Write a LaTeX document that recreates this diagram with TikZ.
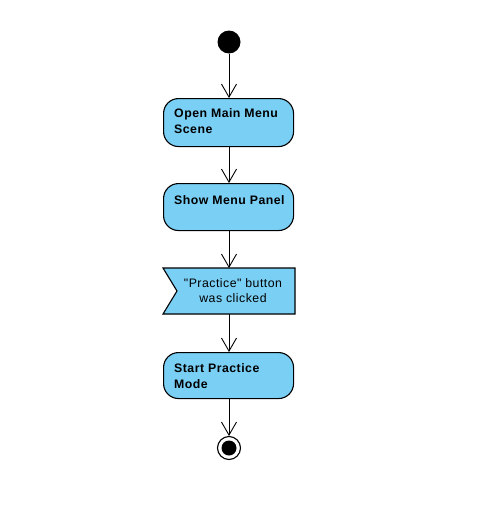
\documentclass[tikz,border=0pt]{standalone}
\usepackage{fontspec}
\setmainfont{Liberation Sans}
\newfontfamily\labfont[LetterSpace=4]{Liberation Sans}
\usetikzlibrary{arrows.meta}
\definecolor{actfill}{RGB}{122,207,245}
\begin{document}
\begin{tikzpicture}[x=1pt,y=-1pt,
  actbox/.style={draw=black,line width=1.1pt,fill=actfill,rounded corners=15pt,minimum width=130pt,minimum height=48pt,inner sep=0pt,anchor=north west},
  acttext/.style={font=\labfont\fontsize{12.3}{16}\selectfont\bfseries,align=left,anchor=base west,inner sep=0pt},
  sigtext/.style={font=\labfont\fontsize{12.3}{15}\selectfont,align=center,anchor=base,inner sep=0pt},
  flow/.style={draw=black,line width=0.9pt,-{Straight Barb[length=13pt,width=15pt,line width=0.9pt]}}]
\useasboundingbox (0,0) rectangle (489,522);
% initial node
\node[circle,fill=black,minimum size=23pt,inner sep=0pt] (init) at (229,42) {};
% actions
\node[actbox] (a1) at (163,98) {};
\node[acttext] (t1) at (174,133) {Open Main Menu\\Scene};
\node[actbox,minimum height=47pt] (a2) at (163,183) {};
\node[acttext] (t2) at (174,204) {Show Menu Panel};
% accept event signal
\draw[line width=1.1pt,fill=actfill] (163,268) -- (295,268) -- (295,314) -- (163,314) -- (177,291) -- cycle;
\coordinate (sigT) at (229,268);
\coordinate (sigB) at (229,314);
\node[sigtext] (t3) at (233,302) {"Practice" button\\was clicked};
\node[actbox,minimum height=46pt] (a3) at (163,352) {};
\node[acttext] (t4) at (174,388) {Start Practice\\Mode};
% final node
\node[circle,draw=black,line width=1.1pt,fill=white,minimum size=23pt,inner sep=0pt] (fin) at (229,448) {};
\node[circle,fill=black,minimum size=15pt,inner sep=0pt] (finin) at (229,448) {};
% flows
\draw[flow] (init.south) -- (a1.north -| init.south);
\draw[flow] (a1.south -| init.south) -- (a2.north -| init.south);
\draw[flow] (a2.south -| init.south) -- (sigT);
\draw[flow] (sigB) -- (a3.north -| init.south);
\draw[flow] (a3.south -| init.south) -- (fin.north);
\end{tikzpicture}
\end{document}
